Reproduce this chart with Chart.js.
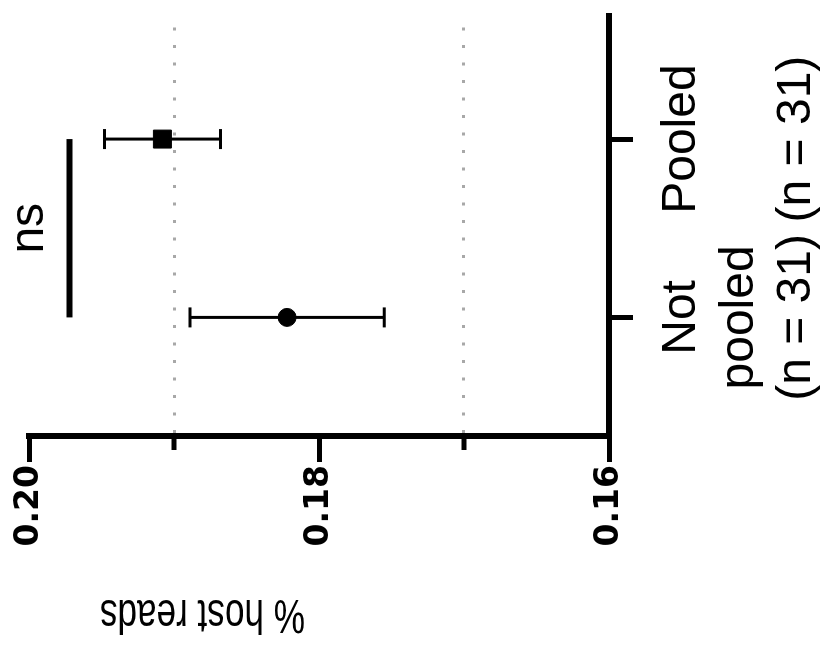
<!DOCTYPE html>
<html>
<head>
<meta charset="utf-8">
<script src="https://cdn.jsdelivr.net/npm/chart.js@4/dist/chart.umd.min.js"></script>
<style>
  html, body { margin: 0; padding: 0; background: #fff; overflow: hidden; }
  body { width: 823px; height: 650px; position: relative; }
  /* the figure is drawn upright, then turned a quarter left like the original */
  #graphique {
    position: absolute; left: 0; top: 0;
    transform-origin: 0 0;
    transform: translateY(650px) rotate(-90deg);
  }
</style>
</head>
<body>
<canvas id="graphique" width="650" height="823"></canvas>
<script>
// groupes et valeurs
const groupes = ["Not pooled", "Pooled"];
const etiquettesGroupes = [["Not", "pooled", "(n = 31)"], ["Pooled", "", "(n = 31)"]];
const moyennes = [0.1822, 0.1908];
const erreurs = [0.0067, 0.0040];
const symboles = ["circle", "rect"];
const taillesSymboles = [9, 12.7];

// axe des valeurs
const graduations = [0.16, 0.17, 0.18, 0.19, 0.20];
const graduationsNommees = [0.16, 0.18, 0.20];
const lignesPointillees = [0.17, 0.19];
const titreAxe = "% host reads";

// comparaison
const niveauCrochet = 0.1972;
const texteCrochet = "ns";

const police = "'Liberation Sans', Arial, sans-serif";
const arrondi = (v) => Math.round(v * 100);
const dans = (liste, v) => liste.some((w) => arrondi(w) === arrondi(v));

// barres d'erreur, sous les symboles
const barresErreur = {
  id: "barresErreur",
  beforeDatasetsDraw(chart) {
    const { ctx, scales: { x, y } } = chart;
    ctx.save();
    ctx.strokeStyle = "#000";
    for (let i = 0; i < moyennes.length; i++) {
      const px = x.getPixelForValue(i);
      const haut = y.getPixelForValue(moyennes[i] + erreurs[i]);
      const bas = y.getPixelForValue(moyennes[i] - erreurs[i]);
      ctx.lineWidth = 3;
      ctx.beginPath();
      ctx.moveTo(px, haut);
      ctx.lineTo(px, bas);
      ctx.stroke();
      ctx.beginPath();
      ctx.moveTo(px - 10, haut);
      ctx.lineTo(px + 10, haut);
      ctx.moveTo(px - 10, bas);
      ctx.lineTo(px + 10, bas);
      ctx.stroke();
    }
    ctx.restore();
  },
};

// petites graduations, crochet "ns" et titre de l'axe
const decorations = {
  id: "decorations",
  afterDraw(chart) {
    const { ctx, chartArea, scales: { x, y } } = chart;
    ctx.save();
    ctx.strokeStyle = "#000";
    ctx.fillStyle = "#000";

    ctx.lineWidth = 5;
    for (const v of lignesPointillees) {
      const py = y.getPixelForValue(v);
      ctx.beginPath();
      ctx.moveTo(y.right, py);
      ctx.lineTo(y.right - 14, py);
      ctx.stroke();
    }

    const pyCrochet = y.getPixelForValue(niveauCrochet);
    ctx.lineWidth = 6;
    ctx.beginPath();
    ctx.moveTo(x.getPixelForValue(0), pyCrochet);
    ctx.lineTo(x.getPixelForValue(1), pyCrochet);
    ctx.stroke();
    ctx.font = "48px " + police;
    ctx.textAlign = "center";
    ctx.textBaseline = "alphabetic";
    ctx.fillText(texteCrochet, (x.getPixelForValue(0) + x.getPixelForValue(1)) / 2, pyCrochet - 27);

    // titre étroit, comme sur la figure
    ctx.translate(50, chartArea.top + (chartArea.bottom - chartArea.top) * 0.299);
    ctx.rotate(-Math.PI / 2);
    ctx.scale(0.732, 1);
    ctx.font = "48px " + police;
    ctx.fillText(titreAxe, 0, 0);
    ctx.restore();
  },
};

new Chart(document.querySelector("#graphique"), {
  type: "scatter",
  data: {
    datasets: [
      {
        label: "% host reads",
        data: moyennes.map((m, i) => ({ x: i, y: m })),
        pointStyle: symboles,
        pointRadius: taillesSymboles,
        pointBackgroundColor: "#000",
        pointBorderColor: "#000",
        pointBorderWidth: 1,
      },
    ],
  },
  options: {
    responsive: false,
    animation: false,
    layout: { padding: { top: 29, right: 5, left: 0, bottom: 0 } },
    plugins: { legend: { display: false }, tooltip: { enabled: false } },
    scales: {
      x: {
        type: "linear",
        min: -0.665,
        max: 1.703,
        afterBuildTicks: (scale) => {
          scale.ticks = groupes.map((g, i) => ({ value: i }));
        },
        afterFit: (scale) => {
          scale.height = 214;
        },
        ticks: {
          autoSkip: false,
          maxRotation: 0,
          minRotation: 0,
          padding: 20,
          color: "#000",
          font: { family: police, size: 48, lineHeight: 1.2 },
          callback: (v) => etiquettesGroupes[v] ?? "",
        },
        grid: {
          drawOnChartArea: false,
          tickLength: 24,
          tickWidth: 5,
          tickColor: "#000",
          color: "#000",
        },
        border: { color: "#000", width: 6 },
      },
      y: {
        min: 0.16,
        max: 0.2,
        afterBuildTicks: (scale) => {
          scale.ticks = graduations.map((v) => ({ value: v }));
        },
        afterFit: (scale) => {
          scale.width = 214;
        },
        ticks: {
          padding: 3,
          color: "#000",
          font: { family: "'DejaVu Sans', sans-serif", size: 33, weight: "bold" },
          callback: (v) => (dans(graduationsNommees, v) ? v.toFixed(2) : ""),
        },
        grid: {
          lineWidth: 3,
          tickLength: 26,
          tickWidth: 5,
          color: (c) => (c.tick && dans(lignesPointillees, c.tick.value) ? "#a8a8a8" : "rgba(0,0,0,0)"),
          tickColor: (c) => (c.tick && dans(graduationsNommees, c.tick.value) ? "#000" : "rgba(0,0,0,0)"),
        },
        border: { color: "#000", width: 6, dash: [3, 14.5] },
      },
    },
  },
  plugins: [barresErreur, decorations],
});
</script>
</body>
</html>
